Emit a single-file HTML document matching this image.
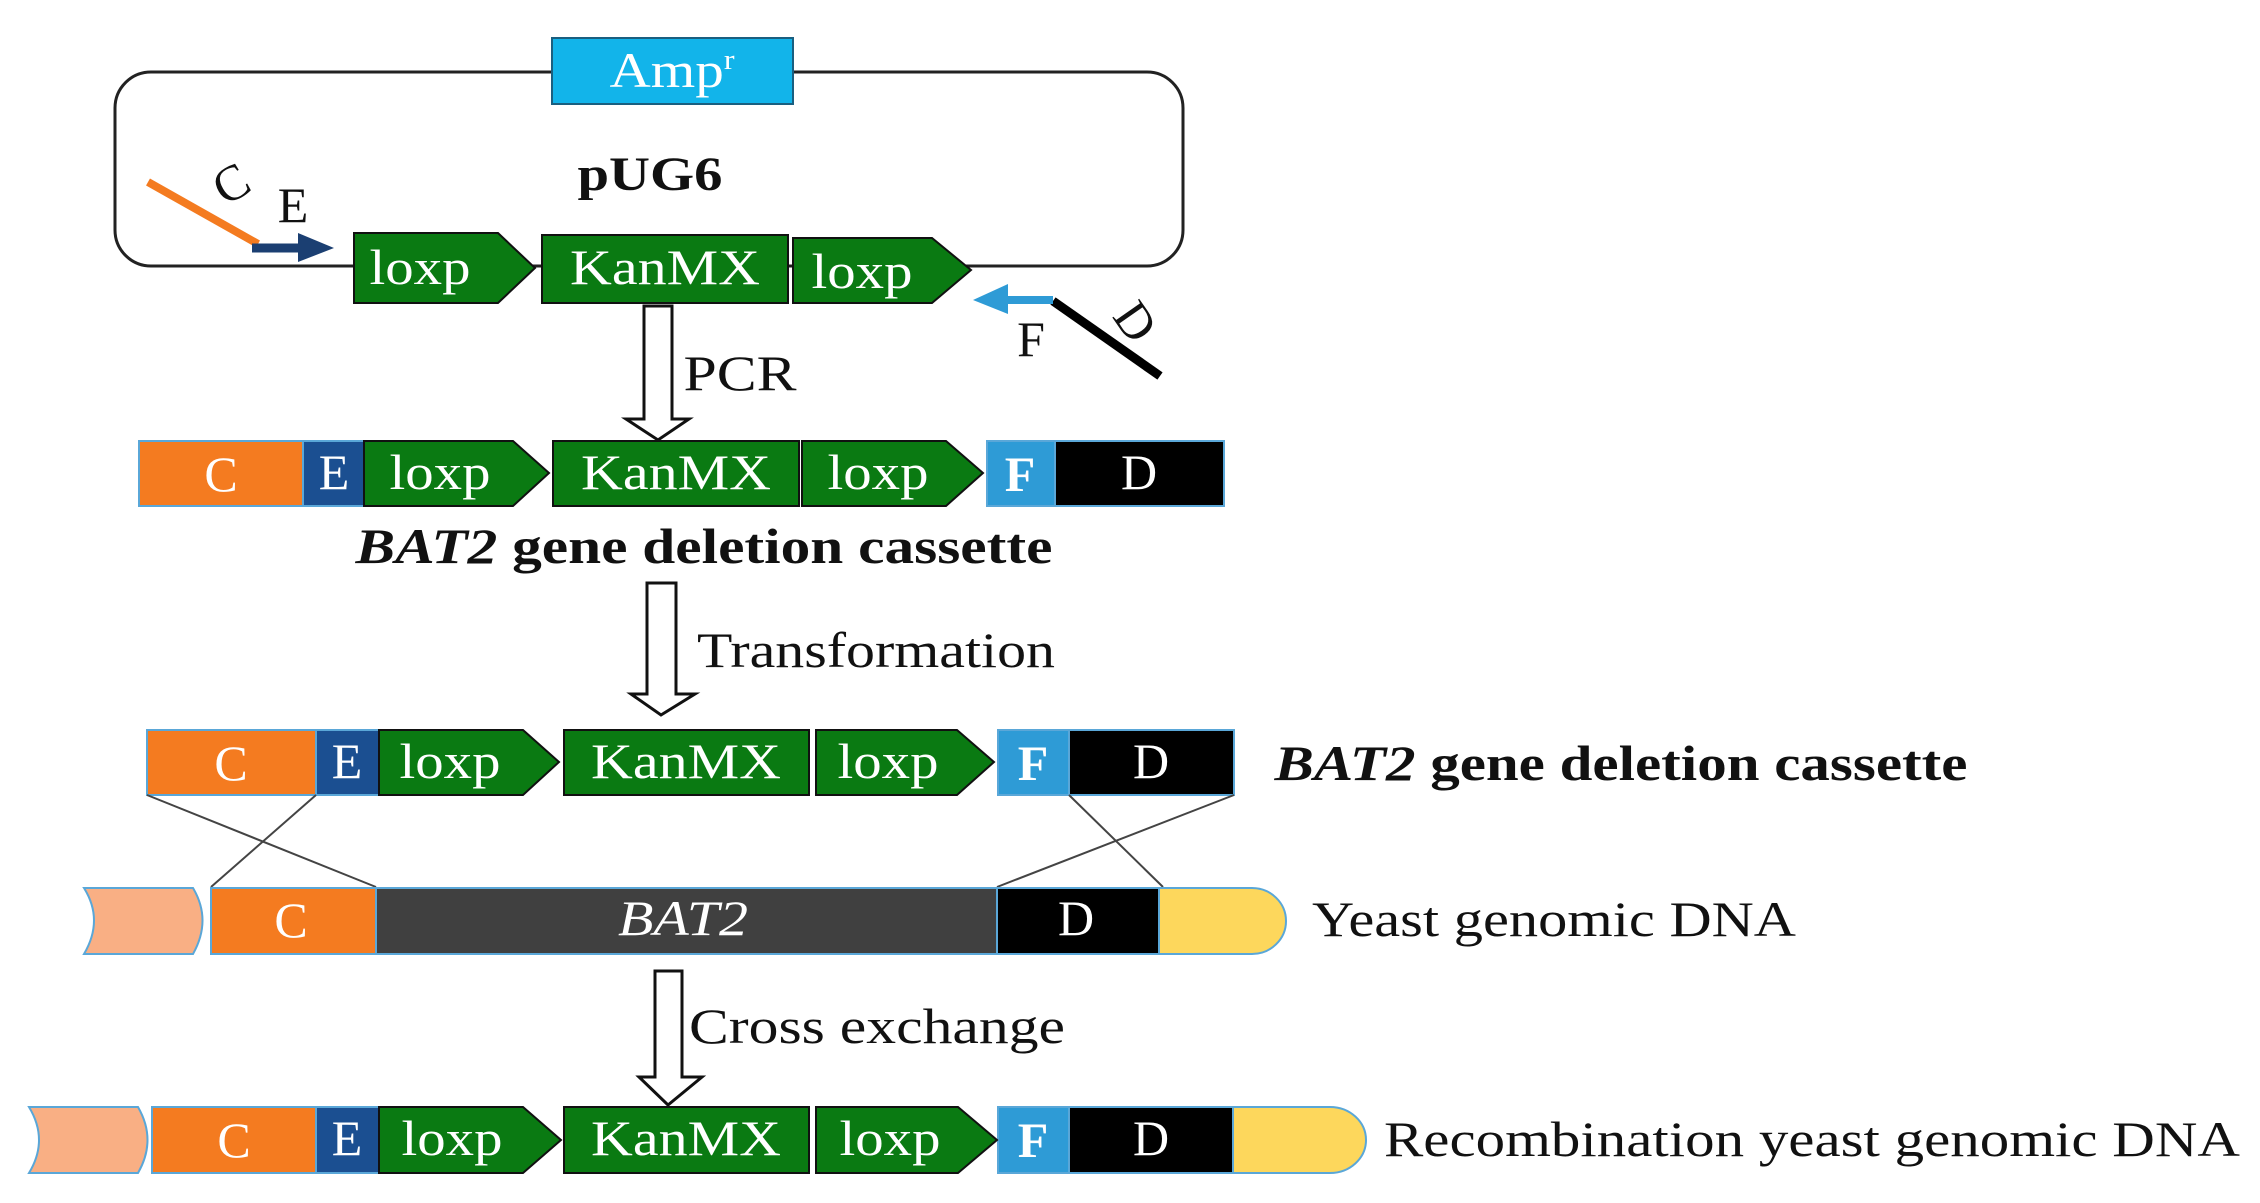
<!DOCTYPE html>
<html><head><meta charset="utf-8"><style>
html,body{margin:0;padding:0;background:#fff;}
svg{display:block;}
text{font-family:"Liberation Serif",serif;}
.w{fill:#fff;font-size:50px;}
.k{fill:#111;font-size:50px;}
</style></head><body>
<svg width="2260" height="1203" viewBox="0 0 2260 1203" xmlns="http://www.w3.org/2000/svg">
<!-- plasmid -->
<rect x="115" y="72" width="1068" height="194" rx="36" fill="none" stroke="#222" stroke-width="3"/>
<rect x="552" y="38" width="241" height="66" fill="#12B4EA" stroke="#1a5f80" stroke-width="2"/>
<text x="672" y="87" text-anchor="middle" class="w" textLength="125" lengthAdjust="spacingAndGlyphs">Amp<tspan font-size="28" dy="-18">r</tspan></text>
<text x="650" y="190" text-anchor="middle" font-size="48" font-weight="bold" fill="#111" textLength="145" lengthAdjust="spacingAndGlyphs">pUG6</text>
<line x1="148" y1="182" x2="258" y2="244" stroke="#F47B20" stroke-width="8"/>
<line x1="252" y1="248" x2="305" y2="248" stroke="#1B3F72" stroke-width="9"/>
<polygon points="298,233 334,248 298,262" fill="#1B3F72"/>
<text x="232" y="200" text-anchor="middle" class="k" font-size="46" transform="rotate(-30 232 185)">C</text>
<text x="293" y="222" text-anchor="middle" class="k" font-size="46">E</text>
<line x1="1053" y1="301" x2="1160" y2="376" stroke="#000" stroke-width="9"/>
<line x1="1053" y1="300" x2="1000" y2="300" stroke="#2E9BD6" stroke-width="8"/>
<polygon points="1008,284 973,300 1008,314" fill="#2E9BD6"/>
<text x="1031" y="356" text-anchor="middle" class="k" font-size="46">F</text>
<text x="1135" y="338" text-anchor="middle" class="k" font-size="46" transform="rotate(55 1135 322)">D</text>
<!-- row1 boxes -->
<polygon points="354,233 498,233 535,268 498,303 354,303" fill="#0A7A12" stroke="#111" stroke-width="2"/>
<text x="420" y="284" text-anchor="middle" class="w" textLength="101" lengthAdjust="spacingAndGlyphs">loxp</text>
<rect x="542" y="235" width="246" height="68" fill="#0A7A12" stroke="#111" stroke-width="2"/>
<text x="665" y="284" text-anchor="middle" class="w" textLength="190" lengthAdjust="spacingAndGlyphs">KanMX</text>
<polygon points="793,238 932,238 971,270 932,303 793,303" fill="#0A7A12" stroke="#111" stroke-width="2"/>
<text x="862" y="288" text-anchor="middle" class="w" textLength="101" lengthAdjust="spacingAndGlyphs">loxp</text>
<!-- hollow arrows -->
<g fill="#fff" stroke="#111" stroke-width="3">
<polygon points="644,306 672,306 672,419 689,419 658,440 626,419 644,419"/>
<polygon points="647,583 676,583 676,694 695,694 661,715 631,694 647,694"/>
<polygon points="655,971 682,971 682,1077 702,1077 668,1105 639,1077 655,1077"/>
</g>
<text x="740" y="390" text-anchor="middle" class="k" textLength="113" lengthAdjust="spacingAndGlyphs">PCR</text>
<text x="876" y="667" text-anchor="middle" class="k" textLength="358" lengthAdjust="spacingAndGlyphs">Transformation</text>
<text x="877" y="1043" text-anchor="middle" class="k" textLength="376" lengthAdjust="spacingAndGlyphs">Cross exchange</text>
<!-- row2 -->
<g stroke="#5aa7d8" stroke-width="2">
<rect x="139" y="441" width="164" height="65" fill="#F47B20"/>
<rect x="303" y="441" width="61" height="65" fill="#1B4F91"/>
<rect x="987" y="441" width="68" height="65" fill="#2E9BD6"/>
<rect x="1055" y="441" width="169" height="65" fill="#000"/>
</g>
<polygon points="364,441 513,441 549,473 513,506 364,506" fill="#0A7A12" stroke="#111" stroke-width="2"/>
<rect x="553" y="441" width="246" height="65" fill="#0A7A12" stroke="#111" stroke-width="2"/>
<polygon points="802,441 946,441 983,473 946,506 802,506" fill="#0A7A12" stroke="#111" stroke-width="2"/>
<text x="221" y="491" text-anchor="middle" class="w">C</text>
<text x="334" y="489" text-anchor="middle" class="w">E</text>
<text x="440" y="489" text-anchor="middle" class="w" textLength="101" lengthAdjust="spacingAndGlyphs">loxp</text>
<text x="676" y="489" text-anchor="middle" class="w" textLength="190" lengthAdjust="spacingAndGlyphs">KanMX</text>
<text x="878" y="489" text-anchor="middle" class="w" textLength="101" lengthAdjust="spacingAndGlyphs">loxp</text>
<text x="1020" y="491" text-anchor="middle" class="w" font-weight="bold">F</text>
<text x="1139" y="489" text-anchor="middle" class="w">D</text>
<text x="704" y="563" text-anchor="middle" class="k" font-weight="bold" textLength="697" lengthAdjust="spacingAndGlyphs"><tspan font-style="italic">BAT2</tspan> gene deletion cassette</text>
<!-- row3 -->
<g stroke="#5aa7d8" stroke-width="2">
<rect x="147" y="730" width="169" height="65" fill="#F47B20"/>
<rect x="316" y="730" width="63" height="65" fill="#1B4F91"/>
<rect x="998" y="730" width="71" height="65" fill="#2E9BD6"/>
<rect x="1069" y="730" width="165" height="65" fill="#000"/>
</g>
<polygon points="379,730 523,730 559,762 523,795 379,795" fill="#0A7A12" stroke="#111" stroke-width="2"/>
<rect x="564" y="730" width="245" height="65" fill="#0A7A12" stroke="#111" stroke-width="2"/>
<polygon points="816,730 957,730 994,762 957,795 816,795" fill="#0A7A12" stroke="#111" stroke-width="2"/>
<text x="231" y="780" text-anchor="middle" class="w">C</text>
<text x="347" y="778" text-anchor="middle" class="w">E</text>
<text x="450" y="778" text-anchor="middle" class="w" textLength="101" lengthAdjust="spacingAndGlyphs">loxp</text>
<text x="686" y="778" text-anchor="middle" class="w" textLength="190" lengthAdjust="spacingAndGlyphs">KanMX</text>
<text x="888" y="778" text-anchor="middle" class="w" textLength="101" lengthAdjust="spacingAndGlyphs">loxp</text>
<text x="1033" y="780" text-anchor="middle" class="w" font-weight="bold">F</text>
<text x="1151" y="778" text-anchor="middle" class="w">D</text>
<text x="1621" y="780" text-anchor="middle" class="k" font-weight="bold" textLength="693" lengthAdjust="spacingAndGlyphs"><tspan font-style="italic">BAT2</tspan> gene deletion cassette</text>
<!-- cross lines -->
<g stroke="#444" stroke-width="2">
<line x1="147" y1="795" x2="376" y2="887"/>
<line x1="316" y1="795" x2="211" y2="887"/>
<line x1="1069" y1="795" x2="1163" y2="887"/>
<line x1="1234" y1="795" x2="997" y2="887"/>
</g>
<!-- row4 -->
<path d="M84,888 L193,888 Q212,920 193,954 L84,954 Q104,920 84,888 Z" fill="#F9AF84" stroke="#5aa7d8" stroke-width="2"/>
<rect x="211" y="888" width="165" height="66" fill="#F47B20" stroke="#5aa7d8" stroke-width="2"/>
<rect x="376" y="888" width="621" height="66" fill="#404040" stroke="#5aa7d8" stroke-width="2"/>
<rect x="997" y="888" width="162" height="66" fill="#000" stroke="#5aa7d8" stroke-width="2"/>
<path d="M1159,888 L1252,888 A34,33 0 0 1 1252,954 L1159,954 Z" fill="#FDD75C" stroke="#5aa7d8" stroke-width="2"/>
<text x="291" y="937" text-anchor="middle" class="w">C</text>
<text x="683" y="935" text-anchor="middle" class="w" font-style="italic" fill="#eee" textLength="130" lengthAdjust="spacingAndGlyphs">BAT2</text>
<text x="1076" y="935" text-anchor="middle" class="w">D</text>
<text x="1554" y="936" text-anchor="middle" class="k" textLength="484" lengthAdjust="spacingAndGlyphs">Yeast genomic DNA</text>
<!-- row5 -->
<path d="M29,1107 L138,1107 Q157,1140 138,1173 L29,1173 Q49,1140 29,1107 Z" fill="#F9AF84" stroke="#5aa7d8" stroke-width="2"/>
<g stroke="#5aa7d8" stroke-width="2">
<rect x="152" y="1107" width="164" height="66" fill="#F47B20"/>
<rect x="316" y="1107" width="63" height="66" fill="#1B4F91"/>
<rect x="998" y="1107" width="71" height="66" fill="#2E9BD6"/>
<rect x="1069" y="1107" width="164" height="66" fill="#000"/>
</g>
<path d="M1233,1107 L1330,1107 A36,33 0 0 1 1330,1173 L1233,1173 Z" fill="#FDD75C" stroke="#5aa7d8" stroke-width="2"/>
<polygon points="379,1107 523,1107 561,1140 523,1173 379,1173" fill="#0A7A12" stroke="#111" stroke-width="2"/>
<rect x="564" y="1107" width="245" height="66" fill="#0A7A12" stroke="#111" stroke-width="2"/>
<polygon points="816,1107 958,1107 997,1140 958,1173 816,1173" fill="#0A7A12" stroke="#111" stroke-width="2"/>
<text x="234" y="1157" text-anchor="middle" class="w">C</text>
<text x="347" y="1155" text-anchor="middle" class="w">E</text>
<text x="452" y="1155" text-anchor="middle" class="w" textLength="101" lengthAdjust="spacingAndGlyphs">loxp</text>
<text x="686" y="1155" text-anchor="middle" class="w" textLength="190" lengthAdjust="spacingAndGlyphs">KanMX</text>
<text x="890" y="1155" text-anchor="middle" class="w" textLength="101" lengthAdjust="spacingAndGlyphs">loxp</text>
<text x="1033" y="1157" text-anchor="middle" class="w" font-weight="bold">F</text>
<text x="1151" y="1155" text-anchor="middle" class="w">D</text>
<text x="1812" y="1156" text-anchor="middle" class="k" textLength="856" lengthAdjust="spacingAndGlyphs">Recombination yeast genomic DNA</text>
</svg>
</body></html>
